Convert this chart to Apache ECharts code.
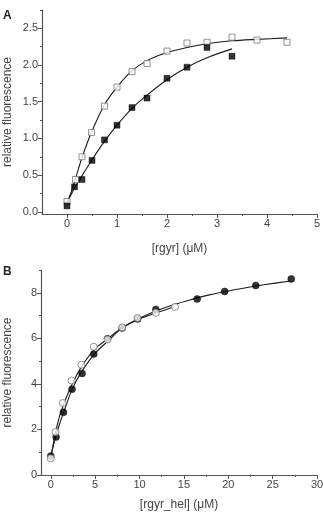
<!DOCTYPE html>
<html>
<head>
<meta charset="utf-8">
<script src="https://cdn.jsdelivr.net/npm/echarts@6/dist/echarts.min.js"></script>
<style>
  html, body { margin: 0; padding: 0; background: #fff; }
  #chart { width: 323px; height: 513px; }
</style>
</head>
<body>
<div id="chart"></div>
<script>
// Panel A data: [rgyr] (uM) vs relative fluorescence
const aOpenX = [0, 0.17, 0.30, 0.49, 0.75, 1.0, 1.3, 1.6, 2.0, 2.4, 2.8, 3.3, 3.8, 4.4];
const aOpenY = [0.14, 0.44, 0.75, 1.08, 1.44, 1.70, 1.91, 2.02, 2.19, 2.30, 2.31, 2.38, 2.34, 2.31];
const aFillX = [0, 0.15, 0.3, 0.5, 0.75, 1.0, 1.3, 1.6, 2.0, 2.4, 2.8, 3.3];
const aFillY = [0.08, 0.34, 0.44, 0.70, 0.98, 1.18, 1.42, 1.55, 1.82, 1.97, 2.24, 2.12];

// Panel A fitted curves
const aOpenFitX = [0, 0.1, 0.2, 0.3, 0.5, 0.75, 1.0, 1.3, 1.6, 2.0, 2.4, 2.8, 3.3, 3.8, 4.4];
const aOpenFitY = [0.12, 0.30, 0.52, 0.74, 1.10, 1.46, 1.70, 1.92, 2.06, 2.17, 2.24, 2.29, 2.33, 2.35, 2.37];
const aFillFitX = [0, 0.15, 0.3, 0.5, 0.75, 1.0, 1.3, 1.6, 2.0, 2.4, 2.8, 3.3];
const aFillFitY = [0.12, 0.32, 0.49, 0.71, 0.96, 1.18, 1.41, 1.59, 1.80, 1.97, 2.10, 2.22];

// Panel B data: [rgyr_hel] (uM) vs relative fluorescence
const bFillX = [0, 0.6, 1.43, 2.4, 3.53, 4.85, 6.4, 8.05, 9.8, 11.84, 16.5, 19.6, 23.1, 27.1];
const bFillY = [0.83, 1.67, 2.75, 3.77, 4.46, 5.31, 5.98, 6.45, 6.85, 7.27, 7.73, 8.06, 8.32, 8.61];
const bOpenX = [0, 0.53, 1.35, 2.33, 3.46, 4.85, 6.4, 8.05, 9.77, 11.84, 14.0];
const bOpenY = [0.73, 1.89, 3.16, 4.15, 4.84, 5.63, 5.95, 6.48, 6.89, 7.12, 7.38];

// Panel B fitted curves
const bFillFitX = [0, 0.5, 1, 1.5, 2.4, 3.5, 5, 6.5, 8, 10, 12, 14, 16, 18, 20, 22, 24, 27];
const bFillFitY = [0.82, 1.6, 2.25, 2.8, 3.76, 4.55, 5.35, 5.9, 6.45, 6.88, 7.22, 7.5, 7.72, 7.92, 8.08, 8.22, 8.35, 8.52];
const bOpenFitX = [0, 0.5, 1, 1.5, 2.4, 3.5, 5, 6.5, 8, 10, 12, 14];
const bOpenFitY = [0.75, 1.8, 2.6, 3.15, 3.98, 4.78, 5.55, 6.0, 6.45, 6.85, 7.13, 7.4];

// Tick values
const aXMajor = [0, 1, 2, 3, 4, 5];
const aXMinor = [0.5, 1.5, 2.5, 3.5, 4.5];
const aYMajor = [0, 0.5, 1.0, 1.5, 2.0, 2.5];
const aYMinor = [0.25, 0.75, 1.25, 1.75, 2.25, 2.75];
const bXMajor = [0, 5, 10, 15, 20, 25, 30];
const bXMinor = [2.5, 7.5, 12.5, 17.5, 22.5, 27.5];
const bYMajor = [0, 2, 4, 6, 8];
const bYMinor = [1, 3, 5, 7, 9];

const FONT = '"Liberation Sans", Arial, sans-serif';
const AXIS_COLOR = '#555';
const TEXT_COLOR = '#444';

function zip(xs, ys) {
    return xs.map((x, i) => [x, ys[i]]);
}

// Main axis: line, major ticks, labels
function mainAxis(grid, min, max, major, fmt, name, isY, gap) {
    return {
        type: 'value', gridIndex: grid, min: min, max: max,
        position: isY ? 'left' : 'bottom',
        name: name, nameLocation: 'middle', nameGap: gap, nameMoveOverlap: false,
        nameTextStyle: { fontFamily: FONT, fontSize: 12, color: TEXT_COLOR },
        axisLine: { show: true, onZero: false, lineStyle: { color: AXIS_COLOR, width: 1.2 } },
        axisTick: { show: true, length: 4, customValues: major, lineStyle: { color: AXIS_COLOR } },
        axisLabel: {
            customValues: major, margin: 4, fontFamily: FONT, fontSize: 11, color: TEXT_COLOR,
            formatter: fmt
        },
        splitLine: { show: false }
    };
}

// Overlay axis: minor ticks only, same side as the main axis
function minorAxis(grid, min, max, minor, isY) {
    return {
        type: 'value', gridIndex: grid, min: min, max: max,
        position: isY ? 'left' : 'bottom', offset: 0,
        axisLine: { show: false, onZero: false },
        axisTick: { show: true, length: 2, customValues: minor, lineStyle: { color: AXIS_COLOR } },
        axisLabel: { show: false },
        splitLine: { show: false }
    };
}

function fitLine(xi, yi, data) {
    return {
        type: 'line', xAxisIndex: xi, yAxisIndex: yi, data: data,
        smooth: 0.3, showSymbol: false, silent: true,
        lineStyle: { color: '#1a1a1a', width: 1.1 }, z: 2
    };
}

function points(xi, yi, data, symbol, filled) {
    return {
        type: 'scatter', xAxisIndex: xi, yAxisIndex: yi, data: data,
        symbol: symbol, symbolSize: symbol === 'rect' ? 6 : 7,
        itemStyle: filled
            ? { color: '#000', borderColor: '#000', borderWidth: 0.5 }
            : { color: '#fff', borderColor: '#777', borderWidth: 1 },
        z: 3
    };
}

const chart = echarts.init(document.getElementById('chart'));

chart.setOption({
    animation: false,
    backgroundColor: '#fff',
    grid: [
        { left: 42, top: 10, width: 275, height: 204, outerBoundsMode: 'none', containLabel: false },
        { left: 41, top: 270, width: 276, height: 205, outerBoundsMode: 'none', containLabel: false }
    ],
    xAxis: [
        mainAxis(0, -0.5, 5, aXMajor, v => String(v), '[rgyr] (\u03bcM)', false, 29),
        minorAxis(0, -0.5, 5, aXMinor, false),
        mainAxis(1, -1.1, 30, bXMajor, v => String(v), '[rgyr_hel] (\u03bcM)', false, 24),
        minorAxis(1, -1.1, 30, bXMinor, false)
    ],
    yAxis: [
        mainAxis(0, -0.03, 2.75, aYMajor, v => v.toFixed(1), 'relative fluorescence', true, 28),
        minorAxis(0, -0.03, 2.75, aYMinor, true),
        mainAxis(1, 0, 9, bYMajor, v => String(v), 'relative fluorescence', true, 27),
        minorAxis(1, 0, 9, bYMinor, true)
    ],
    graphic: [
        { type: 'text', left: 3, top: 10, style: { text: 'A', font: 'bold 12px ' + FONT, fill: '#222' } },
        { type: 'text', left: 3, top: 266, style: { text: 'B', font: 'bold 12px ' + FONT, fill: '#222' } }
    ],
    series: [
        fitLine(0, 0, zip(aOpenFitX, aOpenFitY)),
        fitLine(0, 0, zip(aFillFitX, aFillFitY)),
        points(0, 0, zip(aOpenX, aOpenY), 'rect', false),
        points(0, 0, zip(aFillX, aFillY), 'rect', true),
        fitLine(2, 2, zip(bFillFitX, bFillFitY)),
        fitLine(2, 2, zip(bOpenFitX, bOpenFitY)),
        points(2, 2, zip(bFillX, bFillY), 'circle', true),
        points(2, 2, zip(bOpenX, bOpenY), 'circle', false)
    ]
});
</script>
</body>
</html>
